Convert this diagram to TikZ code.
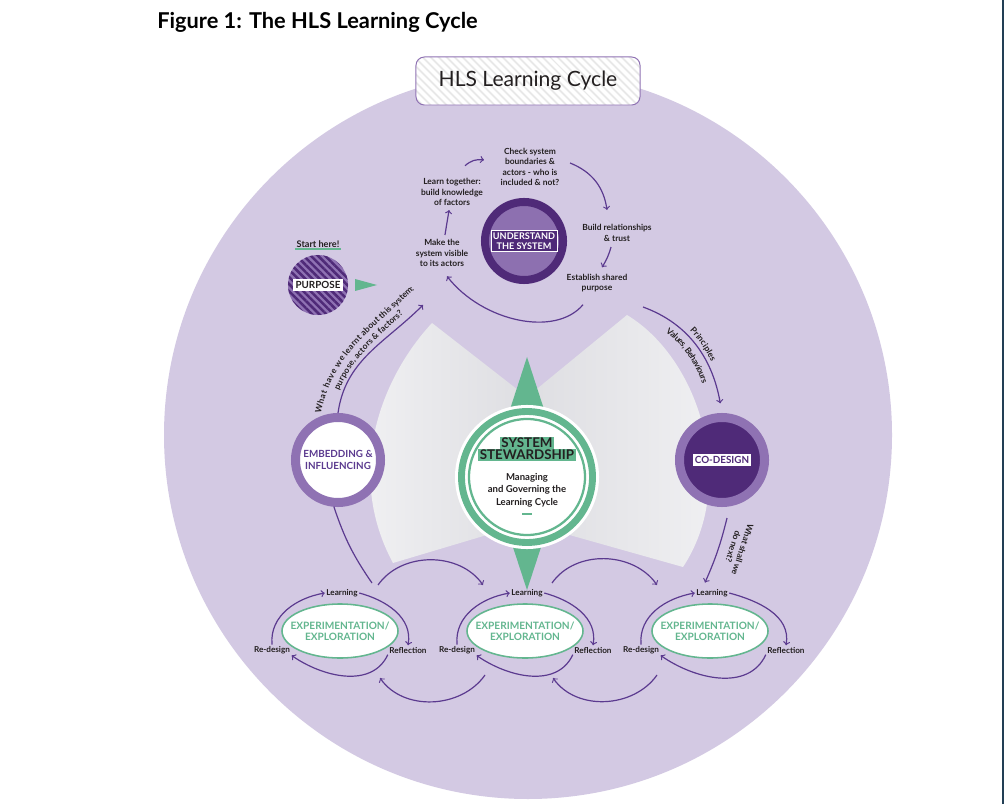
\documentclass[tikz,border=0pt]{standalone}
\usepackage{fontspec}
\setmainfont{Lato}
\usetikzlibrary{shapes.geometric,patterns.meta,decorations.text}
\definecolor{lilac}{HTML}{D3C9E3}
\definecolor{plum}{HTML}{4F2A78}
\definecolor{mauve}{HTML}{8F72B3}
\definecolor{usfill}{HTML}{8D70B0}
\definecolor{arr}{HTML}{5B3A8F}
\definecolor{mint}{HTML}{63B68F}
\definecolor{ink}{HTML}{231F20}
\definecolor{wingL}{HTML}{F2F2F4}
\definecolor{wingD}{HTML}{DEDEE2}
\definecolor{edge}{HTML}{223F55}

\begin{document}
\begin{tikzpicture}[x=0.025cm, y=0.025cm,
    lbl/.style={font=\bfseries\fontsize{6}{7.4}\selectfont, align=center, text=ink, inner sep=1pt},
    cyc/.style={font=\bfseries\fontsize{5.8}{7}\selectfont, text=ink, inner sep=1pt},
    cycarrow/.style={->, draw=arr, line width=0.85pt},
    boxlbl/.style={font=\bfseries\fontsize{7}{8}\selectfont, inner sep=1.5pt, align=center},
    hub/.style={circle, draw=mauve, line width=6.4pt, minimum size=2.125cm, inner sep=0pt},
    expl/.style={ellipse, draw=mint, line width=1.1pt, fill=white, minimum width=2.9cm, minimum height=1.35cm},
    expltext/.style={font=\bfseries\fontsize{7.2}{8}\selectfont, text=mint, align=center, inner sep=0pt},
    arctext/.style={decorate, decoration={text along path, text align=center, raise=#1}}]
    \fill[white] (0,0) rectangle (1004,804);
    \useasboundingbox (0,0) rectangle (1004,804);
    \draw[edge, line width=1.4pt] (1003,0) -- (1003,804);
    \fill[lilac] (528,369) circle[radius=364];
    \shade[left color=wingL, right color=wingD] (527,407) -- (432,481) .. controls (380,425) and (345,330) .. (393,241) -- (527,281) -- cycle;
    \shade[left color=wingD, right color=wingL] (527,407) -- (627,489) .. controls (700,445) and (738,320) .. (683,237) -- (527,281) -- cycle;

    \node (title) [anchor=west, inner sep=0pt, font=\bfseries\fontsize{15.5}{17}\selectfont] at (157,782) {Figure 1: The HLS Learning Cycle};
    \node (hls) [draw=mauve, line width=0.7pt, rounded corners=6pt, minimum width=5.6cm, minimum height=1.2cm,
        preaction={fill=white}, pattern={Lines[angle=-45,distance=4pt,line width=1.3pt]}, pattern color=gray!18,
        text=ink, font=\fontsize{15}{17}\selectfont] at (528,723) {HLS Learning Cycle};

    \node (us) [circle, draw=plum, fill=usfill, line width=5.7pt, minimum size=1.95cm] at (524,563) {};
    \node (ust) [boxlbl, fill=plum, draw=white, line width=0.4pt, text=white, font=\bfseries\fontsize{6.5}{7.5}\selectfont] at (us) {UNDERSTAND\\THE SYSTEM};
    \node (chk) [lbl] at (530,637) {Check system\\boundaries \&\\actors - who is\\included \& not?};
    \node (lrn) [lbl] at (452,612) {Learn together:\\build knowledge\\of factors};
    \node (mk) [lbl] at (442,551) {Make the\\system visible\\to its actors};
    \node (bld) [lbl] at (617,571) {Build relationships\\\& trust};
    \node (est) [lbl] at (597,521) {Establish shared\\purpose};
    \draw[cycarrow, shorten <=2pt, shorten >=2pt] (mk) to (lrn);
    \draw[cycarrow] ([shift={(13,11)}]lrn.north) to[bend left=25] ([shift={(-15,7)}]chk.west);
    \draw[cycarrow] ([shift={(9,4)}]chk.east) to[bend left=30] ([shift={(-10,13)}]bld.north);
    \draw[cycarrow] ([shift={(-6,-4)}]bld.south) to[bend left=8] ([shift={(5,5)}]est.north);
    \draw[cycarrow] ([shift={(-14,-11)}]est.south) .. controls +(-28,-33) and +(35,-45) .. ([shift={(5,-8)}]mk.south);

    \node (purp) [circle, minimum size=1.5cm, preaction={fill=mauve}, pattern={Lines[angle=-45,distance=3.6pt,line width=1.8pt]}, pattern color=plum] at (318,519) {};
    \node (purpt) [boxlbl, fill=white, text=ink] at (purp) {PURPOSE};
    \node (start) [lbl, font=\bfseries\fontsize{6.5}{7.5}\selectfont] at (318,560) {Start here!};
    \draw[mint, line width=0.9pt] (start.south west) -- (start.south east);
    \fill[mint] (355,525) -- (377,519) -- (355,513) -- cycle;

    \node (emb) [hub, fill=white, text=arr, align=center, font=\bfseries\fontsize{7}{8.5}\selectfont] at (338,344) {EMBEDDING \&\\INFLUENCING};
    \node (cod) [hub, fill=plum] at (722,344) {};
    \node (codt) [boxlbl, fill=white, text=plum] at (cod) {CO-DESIGN};

    \coordinate (c1) at (423,499);
    \draw[cycarrow] (emb.north) to[out=82,in=225] (c1);
    \path[arctext=12pt, decoration={text={|\color{ink}\fontsize{6}{7}\bfseries\selectfont|What have we learnt about this system:}}] ([shift={(-2,-14)}]emb.north) to[out=83,in=225] ([shift={(10,10)}]c1);
    \path[arctext=4.5pt, decoration={text={|\color{ink}\fontsize{6}{7}\bfseries\selectfont|purpose, actors {\&} factors?}}] ([shift={(-2,-14)}]emb.north) to[out=83,in=225] ([shift={(10,10)}]c1);

    \coordinate (p1) at (643,497);
    \draw[cycarrow, shorten >=7pt] (p1) to[out=-20,in=100] (cod.north);
    \path[arctext=3.5pt, decoration={text={|\color{ink}\fontsize{6}{7}\bfseries\selectfont|Principles}}] (p1) to[out=-20,in=100] (cod.north);
    \path[arctext=-8.5pt, decoration={text={|\color{ink}\fontsize{6}{7}\bfseries\selectfont|Values, Behaviours}}] (p1) to[out=-20,in=100] (cod.north);

    \fill[mint] (527,447) -- (565,330) -- (527,214) -- (489,330) -- cycle;
    \node (ss) [circle, fill=white, minimum size=3.6cm] at (527,327) {};
    \draw[mint, line width=4.9pt] (ss.center) circle[radius=65.5];
    \draw[mint, line width=1.6pt] (ss.center) circle[radius=58];
    \node (sys1) [fill=mint, inner sep=1pt, text=ink, font=\bfseries\fontsize{9.5}{10}\selectfont] at (527,361) {SYSTEM};
    \node (sys2) [fill=mint, inner sep=1pt, text=ink, font=\bfseries\fontsize{9.5}{10}\selectfont] at (527,349) {STEWARDSHIP};
    \node (mg) [lbl, font=\bfseries\fontsize{6.8}{8.9}\selectfont] at (527,314) {Managing\\and Governing the\\Learning Cycle};
    \draw[mint, line width=1.5pt] (522,290) -- (532,290);

    \node (e1) [expl] at (340,173) {};
    \node (x1) [expltext] at (e1) {EXPERIMENTATION/\\EXPLORATION};
    \node (ln1) [cyc] at (342,211) {Learning};
    \node (rd1) [cyc] at (272,154) {Re-design};
    \node (rf1) [cyc] at (408,154) {Reflection};
    \draw[cycarrow] (rd1.north) to[out=95,in=190] (ln1.west);
    \draw[cycarrow] (ln1.east) to[out=-15,in=80] (rf1.north);
    \draw[cycarrow] (rf1.south west) to[out=-115,in=-35] (rd1.south east);

    \node (e2) [expl] at (525,173) {};
    \node (x2) [expltext] at (e2) {EXPERIMENTATION/\\EXPLORATION};
    \node (ln2) [cyc] at (527,211) {Learning};
    \node (rd2) [cyc] at (457,154) {Re-design};
    \node (rf2) [cyc] at (593,154) {Reflection};
    \draw[cycarrow] (rd2.north) to[out=95,in=190] (ln2.west);
    \draw[cycarrow] (ln2.east) to[out=-15,in=80] (rf2.north);
    \draw[cycarrow] (rf2.south west) to[out=-115,in=-35] (rd2.south east);

    \node (e3) [expl] at (710,173) {};
    \node (x3) [expltext] at (e3) {EXPERIMENTATION/\\EXPLORATION};
    \node (ln3) [cyc] at (712,211) {Learning};
    \node (rd3) [cyc] at (641,154) {Re-design};
    \node (rf3) [cyc] at (786,154) {Reflection};
    \draw[cycarrow] (rd3.north) to[out=95,in=190] (ln3.west);
    \draw[cycarrow] (ln3.east) to[out=-15,in=80] (rf3.north);
    \draw[cycarrow] (rf3.south west) to[out=-115,in=-35] (rd3.south east);

    \draw[cycarrow] ([shift={(36,8)}]ln1.center) to[out=55,in=125] ([shift={(-44,8)}]ln2.center);
    \draw[cycarrow] ([shift={(25,10)}]ln2.center) to[out=55,in=125] ([shift={(-55,8)}]ln3.center);
    \draw[cycarrow] ([shift={(28,-25)}]rd2.center) to[out=-125,in=-55] ([shift={(-28,-28)}]rf1.center);
    \draw[cycarrow] ([shift={(16,-25)}]rd3.center) to[out=-125,in=-55] ([shift={(-40,-28)}]rf2.center);
    \draw[arr, line width=0.85pt] (emb.-95) to[bend right=8] ([shift={(30,10)}]ln1.center);

    \draw[cycarrow] ([shift={(5,-11)}]cod.south) to[bend left=5] ([shift={(-7,5)}]ln3.north);
    \node (next) [lbl, rotate=-108, font=\bfseries\fontsize{6}{7}\selectfont] at (738,256) {What shall we\\do next?};
\end{tikzpicture}
\end{document}
